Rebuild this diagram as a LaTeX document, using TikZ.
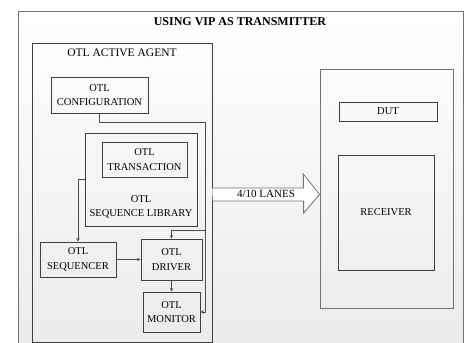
\documentclass[tikz,border=0pt]{standalone}
\usepackage{fontspec}
\setmainfont{Liberation Serif}
\usetikzlibrary{positioning}
\begin{document}
\begin{tikzpicture}[>=stealth, x=1pt, y=-1pt,
  blk/.style={draw=black!75, line width=0.7pt, align=center, inner sep=1pt, font=\fontsize{10.5}{14.5}\selectfont},
  frame/.style={draw=black!55, line width=0.8pt},
  wire/.style={draw=black!70, line width=0.6pt}]
\useasboundingbox (0,0) rectangle (467,343);
\clip (0,0) rectangle (467,343);
\draw[frame, top color=white, bottom color=black!8] (18,11) rectangle (463,350);
\node[font=\bfseries\fontsize{12}{14}\selectfont] (title) at (240,22) {USING VIP AS TRANSMITTER};

% agent side
\node[blk, minimum width=180pt, minimum height=299pt] (agent) at (122,192.5) {};
\node[font=\fontsize{11.5}{14}\selectfont] (agentlbl) at (122,53) {OTL ACTIVE AGENT};
\node[blk, minimum width=97pt, minimum height=36pt] (cfg) at (99.5,95) {OTL\\CONFIGURATION};
\node[blk, minimum width=112pt, minimum height=93pt] (lib) at (141,179.5) {};
\node[blk, draw=none] (liblbl) at (141,207) {OTL\\SEQUENCE LIBRARY};
\node[blk, minimum width=85pt, minimum height=35pt] (trans) at (144.5,159.5) {OTL\\TRANSACTION};
\node[blk, minimum width=76pt, minimum height=35pt] (seqr) at (78,259.5) {OTL\\SEQUENCER};
\node[blk, minimum width=61pt, minimum height=41pt] (drv) at (171.5,259.5) {OTL\\DRIVER};
\node[blk, minimum width=57pt, minimum height=40pt] (mon) at (171.5,312) {OTL\\MONITOR};

\coordinate (bus) at (205,122);
\coordinate (tap) at (205,230);
\draw[wire, ->] (cfg.south) |- (bus) |- (mon.east);
\draw[wire, ->] (tap) -| (drv.north);
\draw[wire, ->] (lib.west) -| (seqr.north);
\draw[wire, ->] (seqr.east) -- (drv.west);
\draw[wire, ->] (drv.south) -- (mon.north);

% dut side
\node[frame, minimum width=133pt, minimum height=239pt] (dutbox) at (386.5,188.5) {};
\node[blk, minimum width=98pt, minimum height=19pt] (dut) at (388,111.5) {DUT};
\node[blk, minimum width=96pt, minimum height=115pt] (rx) at (386,212.5) {RECEIVER};

% lanes
\coordinate (lnA) at (agent.east |- 0,194.5);
\coordinate (lnB) at (dutbox.west |- 0,194.5);
\draw[frame, fill=white] (lnA) ++(0,-6.5) -- ++(91,0) -- ++(0,-14) -- (lnB) -- ++(-16,18.5) -- ++(0,-12) -- ++(-91,0);
\node[font=\fontsize{11}{13}\selectfont, inner sep=0pt] (lanes) at (266,194) {4/10 LANES};
\end{tikzpicture}
\end{document}
